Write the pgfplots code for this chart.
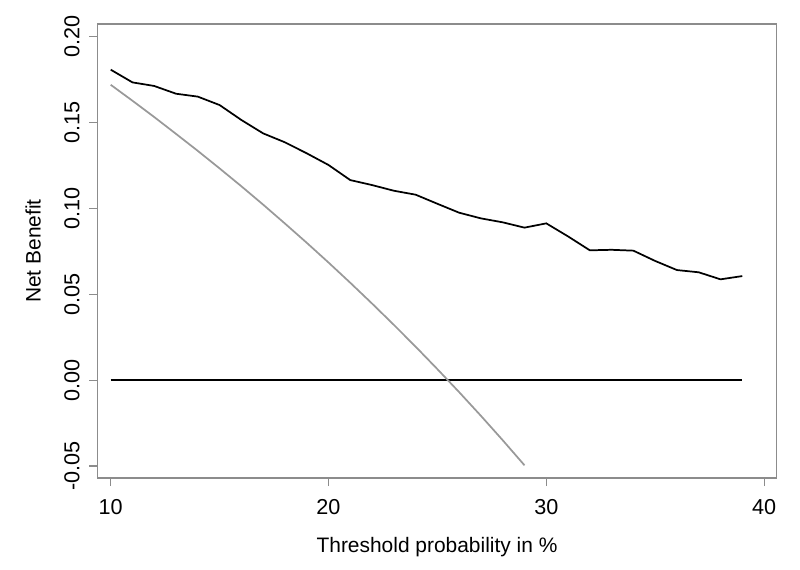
\documentclass[border=0pt]{standalone}
\usepackage{pgfplots}
\pgfplotsset{compat=1.18}
\usepackage{fontspec}
\setmainfont{Liberation Sans}
\definecolor{framegray}{HTML}{8C8C8C}
\definecolor{allgray}{HTML}{999999}
\begin{document}
\begin{tikzpicture}[x=1pt,y=1pt]
\path[use as bounding box] (0,0) rectangle (600,426.75);
\begin{axis}[
  at={(72.975pt,68.25pt)}, anchor=south west,
  scale only axis, width=509.55pt, height=340.5pt,
  xmin=9.385, xmax=40.58, ymin=-0.057, ymax=0.2074,
  axis line style={draw=framegray, line width=0.8pt},
  tick style={draw=framegray, line width=0.8pt},
  tick align=outside, major tick length=6pt,
  xtick={10,20,30,40}, xticklabels={10,20,30,40},
  ytick={-0.05,0,0.05,0.10,0.15,0.20},
  yticklabels={-0.05,0.00,0.05,0.10,0.15,0.20},
  xtick pos=bottom, ytick pos=left,
  tick label style={font=\fontsize{16.2}{19}\selectfont},
  xticklabel style={anchor=north, inner sep=0pt, yshift=-10pt},
  yticklabel style={anchor=south, rotate=90, inner sep=0pt},
  every y tick label/.append style={yshift=7pt},
  xlabel={Threshold probability in \%},
  ylabel={Net Benefit},
  label style={font=\fontsize{15.7}{19}\selectfont},
  xlabel style={at={(axis description cs:0.5,0)}, anchor=base, yshift=-56pt, inner sep=0pt},
  ylabel style={at={(axis description cs:0,0.5)}, anchor=base, inner sep=0pt},
  every axis y label/.append style={yshift=42.5pt},
]
\addplot[black, line width=1.5pt] coordinates {(10,0) (39,0)};
\addplot[allgray, line width=1.3pt] coordinates {
(10,0.1720) (11,0.1627) (12,0.1532) (13,0.1434) (14,0.1335) (15,0.1233)
(16,0.1129) (17,0.1022) (18,0.0912) (19,0.0800) (20,0.0685) (21,0.0567)
(22,0.0446) (23,0.0322) (24,0.0195) (25,0.0064) (26,-0.0070) (27,-0.0208)
(28,-0.0350) (29,-0.0496)};
\addplot[black, line width=1.3pt] coordinates {
(10,0.1808) (11,0.1734) (12,0.1713) (13,0.1668) (14,0.1651) (15,0.1602)
(16,0.1515) (17,0.1437) (18,0.1385) (19,0.1321) (20,0.1253) (21,0.1165)
(22,0.1136) (23,0.1103) (24,0.1080) (25,0.1027) (26,0.0975) (27,0.0942)
(28,0.0919) (29,0.0888) (30,0.0913) (31,0.0837) (32,0.0756) (33,0.0759)
(34,0.0754) (35,0.0694) (36,0.0641) (37,0.0628) (38,0.0587) (39,0.0606)};
\end{axis}
\end{tikzpicture}
\end{document}
